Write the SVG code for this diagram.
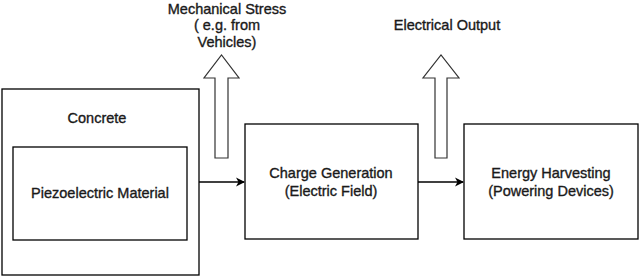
<svg xmlns="http://www.w3.org/2000/svg" width="640" height="277" viewBox="0 0 640 277">
<style>
.box{fill:#fff;stroke:#000;stroke-width:1.3}
.blk{fill:#fff;stroke:#333;stroke-width:1.2}
.t{font-family:"Liberation Sans",Arial,sans-serif;font-size:14.5px;fill:#1a1a1a;stroke:#1a1a1a;stroke-width:0.35;text-anchor:middle}
.ln{stroke:#000;stroke-width:1.3;fill:none}
</style>
<defs>
<marker id="ah" markerWidth="10" markerHeight="10" refX="8" refY="5" orient="auto" markerUnits="userSpaceOnUse">
<path d="M0,0.5 L9,5 L0,9.5 L2.5,5 Z" fill="#000"/>
</marker>
</defs>
<g id="concrete">
<rect class="box" x="2" y="89" width="197" height="186"/>
<text class="t" x="97" y="123">Concrete</text>
</g>
<g id="piezo">
<rect class="box" x="13" y="147" width="174" height="93"/>
<text class="t" x="100" y="198">Piezoelectric Material</text>
</g>
<g id="charge">
<rect class="box" x="245" y="124" width="173" height="115"/>
<text class="t" x="331" y="178">Charge Generation</text>
<text class="t" x="331" y="196">(Electric Field)</text>
</g>
<g id="energy">
<rect class="box" x="464" y="124" width="174" height="115"/>
<text class="t" x="551" y="178">Energy Harvesting</text>
<text class="t" x="551" y="196">(Powering Devices)</text>
</g>
<g id="stress">
<path class="blk" d="M215,158 L215,78 L204,78 L221.5,55 L239,78 L228,78 L228,158 Z"/>
<text class="t" x="227" y="14">Mechanical Stress</text>
<text class="t" x="227" y="30">( e.g. from</text>
<text class="t" x="227" y="47">Vehicles)</text>
</g>
<g id="output">
<path class="blk" d="M435,158 L435,78 L423,78 L441,55 L459,78 L447,78 L447,158 Z"/>
<text class="t" x="447" y="30">Electrical Output</text>
</g>
<g id="connectors">
<line class="ln" x1="199" y1="182" x2="244" y2="182" marker-end="url(#ah)"/>
<line class="ln" x1="418" y1="182" x2="463" y2="182" marker-end="url(#ah)"/>
</g>
</svg>
